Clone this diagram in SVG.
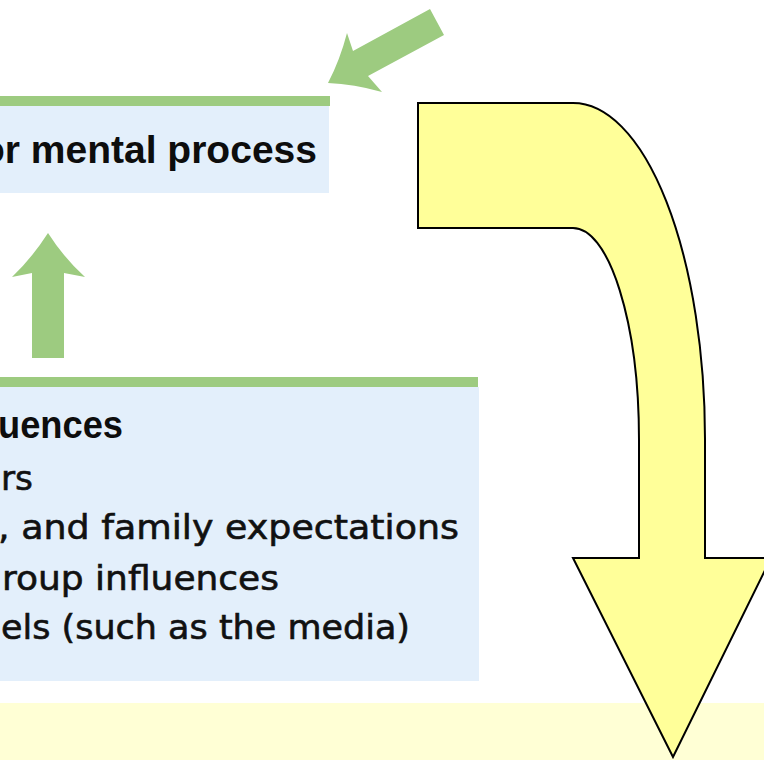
<svg xmlns="http://www.w3.org/2000/svg" width="764" height="760" viewBox="0 0 764 760">
  <defs>
    <style>
      .panel { fill: #E3EFFB; }
      .rule { fill: #9DCB80; }
      .green-arrow { fill: #9DCB80; }
      .head { font-family: "Liberation Sans", Arial, sans-serif; font-weight: bold; font-size: 39px; fill: #0d0d0d; }
      .item { font-family: "DejaVu Sans", "Liberation Sans", sans-serif; font-size: 34px; fill: #111; stroke: #111; stroke-width: 0.6; }
      .flow { fill: #FFFF99; stroke: #000; stroke-width: 2; stroke-linejoin: miter; }
      .band { fill: #FFFFD5; }
    </style>
  </defs>

  <rect width="764" height="760" fill="#FFFFFF"/>

  <!-- pale strip along the bottom -->
  <rect class="band" x="0" y="703" width="764" height="57"/>

  <!-- upper box: behavior / mental process -->
  <g id="node-process">
    <rect class="rule" x="0" y="96" width="330" height="10"/>
    <rect class="panel" x="0" y="106" width="329" height="87"/>
    <text class="head" x="-19" y="163">or mental process</text>
  </g>

  <!-- lower box: social-cultural influences -->
  <g id="node-influences">
    <rect class="rule" x="0" y="377" width="478" height="10"/>
    <rect class="panel" x="0" y="387" width="479" height="294"/>
    <text class="head" x="-2" y="438" textLength="125" lengthAdjust="spacingAndGlyphs">uences</text>
    <text class="item" x="1" y="490" textLength="32" lengthAdjust="spacingAndGlyphs">rs</text>
    <text class="item" x="-2" y="539" textLength="461" lengthAdjust="spacingAndGlyphs">, and family expectations</text>
    <text class="item" x="2" y="590" textLength="277" lengthAdjust="spacingAndGlyphs">roup influences</text>
    <text class="item" x="1" y="639" textLength="409" lengthAdjust="spacingAndGlyphs">els (such as the media)</text>
  </g>

  <!-- connectors -->
  <g id="connectors">
    <!-- green arrow coming in from the upper right onto the upper box -->
    <path class="green-arrow" d="M 328 83 Q 340 60 347 33 L 353 51 L 430 9 L 444 35 L 368 76 L 382 92 Q 354 84 328 83 Z"/>
    <!-- green arrow from the lower box up to the upper box -->
    <path class="green-arrow" d="M 48 233 Q 64 258 85 277 L 64 273 L 64 358 L 32 358 L 32 273 L 12 277 Q 32 258 48 233 Z"/>
    <!-- large yellow bent arrow -->
    <path class="flow" d="M 418 103 H 573 A 132 336 0 0 1 705 439 V 558 H 771 L 673 757 L 573 558 H 639 V 440 A 66 212 0 0 0 573 228 H 418 Z"/>
  </g>
</svg>
